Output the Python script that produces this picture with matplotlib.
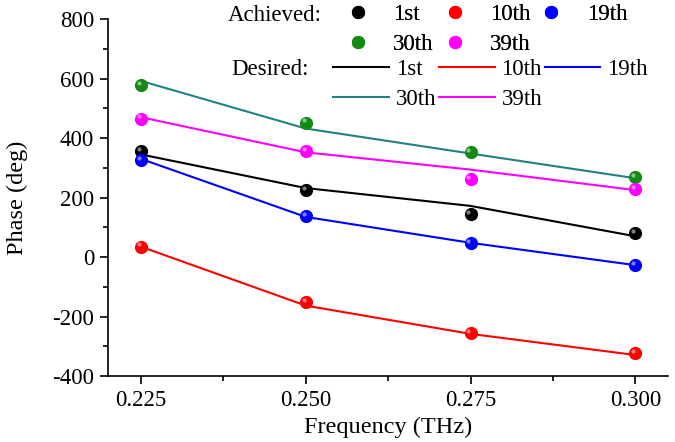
import matplotlib

matplotlib.use("Agg")

import matplotlib.pyplot as plt
import matplotlib.transforms as mtransforms
from matplotlib.lines import Line2D
from matplotlib.ticker import MultipleLocator, FormatStrFormatter

plt.rcParams["font.family"] = ["Liberation Serif", "DejaVu Serif"]
plt.rcParams["font.size"] = 16.5
plt.rcParams["axes.unicode_minus"] = False

freq = [0.225, 0.250, 0.275, 0.300]
labels = ["1st", "10th", "19th", "30th", "39th"]

# achieved phase (dots)
achieved = {
    "1st": [355, 225, 145, 80],
    "10th": [35, -150, -255, -322],
    "19th": [325, 138, 48, -27],
    "30th": [578, 452, 352, 268],
    "39th": [465, 355, 263, 228],
}
# desired phase (lines)
desired = {
    "1st": [345, 232, 172, 70],
    "10th": [35, -163, -258, -329],
    "19th": [330, 135, 48, -27],
    "30th": [592, 432, 348, 265],
    "39th": [470, 352, 294, 225],
}

dot_colors = {"1st": "#000000", "10th": "#ff0000", "19th": "#0000ff",
              "30th": "#138a13", "39th": "#ff00ff"}
line_colors = {"1st": "#000000", "10th": "#ff0000", "19th": "#0000ff",
               "30th": "#218282", "39th": "#ff00ff"}

fig = plt.figure(figsize=(6.75, 4.42), dpi=100)
ax = fig.add_axes([0.16, 0.149, 0.83, 0.808])

# shifted transform for the little shine on each ball
shine = mtransforms.offset_copy(ax.transData, fig=fig, x=-1.6, y=1.6, units="points")

for name in labels:
    ax.plot(freq, desired[name], color=line_colors[name], linewidth=1.5, zorder=2)
for name in labels:
    ax.plot(freq, achieved[name], linestyle="none", marker="o", markersize=9.5,
            color=dot_colors[name], markeredgewidth=0, zorder=3)
    ax.plot(freq, achieved[name], linestyle="none", marker="o", markersize=3,
            color="white", alpha=0.5, markeredgewidth=0, zorder=4, transform=shine)

ax.set_xlim(0.22, 0.305)
ax.set_ylim(-400, 800)
ax.xaxis.set_major_locator(MultipleLocator(0.025))
ax.xaxis.set_minor_locator(MultipleLocator(0.0125))
ax.yaxis.set_major_locator(MultipleLocator(200))
ax.yaxis.set_minor_locator(MultipleLocator(100))
ax.xaxis.set_major_formatter(FormatStrFormatter("%.3f"))
ax.tick_params(which="major", direction="out", length=6, width=1.2, pad=4)
ax.tick_params(which="minor", direction="out", length=3.5, width=1.2)
for side in ["top", "right"]:
    ax.spines[side].set_visible(False)
for side in ["left", "bottom"]:
    ax.spines[side].set_linewidth(1.2)

ax.set_xlabel("Frequency (THz)", fontsize=17.5, labelpad=4)
ax.set_ylabel("Phase (deg)", fontsize=17.5, labelpad=17)

# reorder so rows read 1st 10th 19th / 30th 39th
order = ["1st", "30th", "10th", "39th", "19th"]

dot_handles = [Line2D([], [], linestyle="none", marker="o", markersize=9.5,
                      color=dot_colors[n], markeredgewidth=0) for n in order]
leg1 = fig.legend(dot_handles, order, ncol=3, loc="upper left",
                  bbox_to_anchor=(0.513, 0.991), frameon=False,
                  handlelength=1.0, handletextpad=1.05, columnspacing=0.4,
                  labelspacing=0.4, borderpad=0, borderaxespad=0)

line_handles = [Line2D([], [], color=line_colors[n], linewidth=1.5) for n in order]
leg2 = fig.legend(line_handles, order, ncol=3, loc="upper left",
                  bbox_to_anchor=(0.494, 0.866), frameon=False,
                  handlelength=2.43, handletextpad=0.3, columnspacing=0.1,
                  labelspacing=0.4, borderpad=0, borderaxespad=0)
fig.add_artist(leg1)

fig.text(0.338, 0.966, "Achieved:", ha="left", va="center")
fig.text(0.342, 0.842, "Desired:", ha="left", va="center")

fig.savefig("out.png", dpi=100)
